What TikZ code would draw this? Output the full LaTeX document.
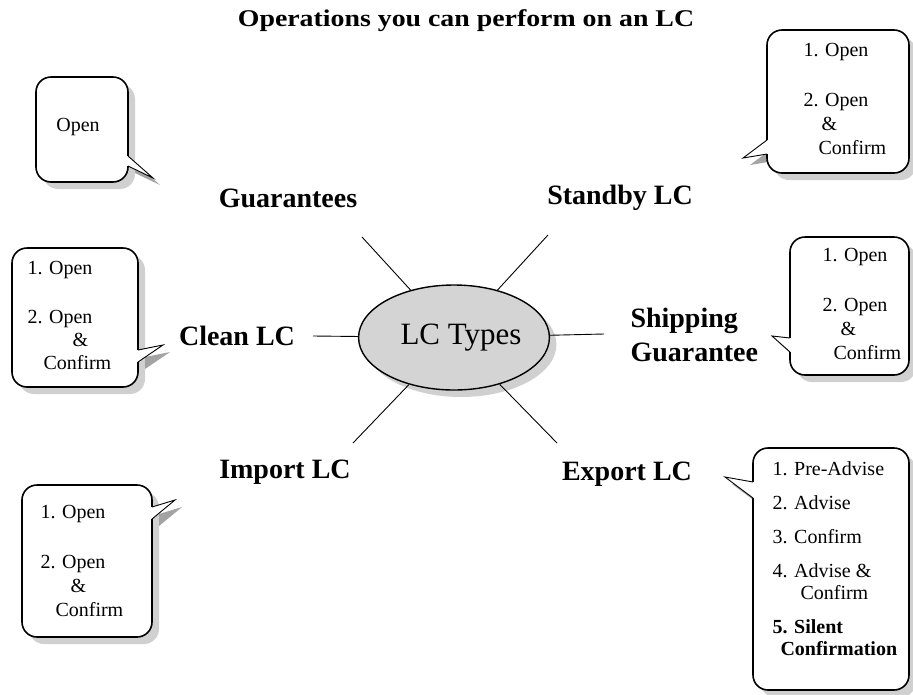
\documentclass[tikz,border=0pt]{standalone}
\usepackage{fontspec}
\setmainfont{Liberation Serif}
\usetikzlibrary{shapes.geometric,shadows,positioning}
\definecolor{hubgray}{HTML}{D4D4D4}
\definecolor{shadegray}{HTML}{A3A3A3}

\begin{document}
\begin{tikzpicture}[
  x=1pt, y=-1pt,
  line width=1pt,
  hub/.style={ellipse, draw, line width=1.4pt, fill=hubgray, minimum width=190pt, minimum height=105pt, inner sep=0pt, font=\fontsize{31}{33}\selectfont, drop shadow={shadow xshift=7pt, shadow yshift=-7pt, fill=shadegray}},
  ltype/.style={font=\fontsize{28}{34}\bfseries\selectfont, inner sep=0pt},
  spoke/.style={draw, line width=0.9pt},
  bubble/.style={rectangle, draw, line width=1.6pt, fill=white, rounded corners=15pt, inner sep=0pt, drop shadow={shadow xshift=7pt, shadow yshift=-7pt, fill=shadegray}},
  optext/.style={font=\fontsize{20}{24}\selectfont, align=left, inner sep=0pt, anchor=north west},
  tipshade/.style={fill=shadegray, shift={(7,7)}},
  tipfill/.style={fill=white},
  tipgap/.style={draw=white, line width=2.6pt},
  tipline/.style={draw, line width=0.9pt, line join=miter}
]
  \fill[white] (0,0) rectangle (913,694);
  \useasboundingbox (0,0) rectangle (913,694);

  % title
  \node[font=\fontsize{24}{28}\bfseries\selectfont] (title) at (466,21) {\scalebox{1.16}[1]{Operations you can perform on an LC}};

  % hub and the LC types round it
  \node[hub] (hub) at (454,337.5) {\hspace*{14pt}LC Types};
  \node[ltype] (guar) at (288,198) {Guarantees};
  \node[ltype] (standby) at (620,198) {Standby LC};
  \node[ltype] (clean) at (237,336) {Clean LC};
  \node[ltype, align=left, anchor=west] (ship) at (630,335) {Shipping\\Guarantee};
  \node[ltype] (import) at (285,472) {Import LC};
  \node[ltype] (export) at (627,474) {Export LC};

  \coordinate (guarEnd) at (362,237);
  \coordinate (standbyEnd) at (548,235);
  \coordinate (cleanEnd) at (313,336);
  \coordinate (shipEnd) at (604,334);
  \coordinate (importEnd) at (353,443);
  \coordinate (exportEnd) at (557,443);
  \draw[spoke] (hub) -- (guarEnd);
  \draw[spoke] (hub) -- (standbyEnd);
  \draw[spoke] (hub) -- (cleanEnd);
  \draw[spoke] (hub) -- (shipEnd);
  \draw[spoke] (hub) -- (importEnd);
  \draw[spoke] (hub) -- (exportEnd);

  % Guarantees callout
  \fill[tipshade] (128,156) -- (153,178) -- (128,166) -- cycle;
  \node[bubble, minimum width=92pt, minimum height=105pt] (guarbox) at (82,129.5) {};
  \fill[tipfill] (128,156) -- (153,178) -- (128,166) -- cycle;
  \draw[tipgap] (128,156) -- (128,166);
  \draw[tipline] (128,156) -- (153,178) -- (128,166);
  \node[font=\fontsize{20}{24}\selectfont] (guartext) at (78,127) {Open};

  % Standby LC callout
  \fill[tipshade] (767,140) -- (743,158) -- (767,154) -- cycle;
  \node[bubble, minimum width=142pt, minimum height=143pt] (standbybox) at (838,101.5) {};
  \fill[tipfill] (767,140) -- (743,158) -- (767,154) -- cycle;
  \draw[tipgap] (767,140) -- (767,154);
  \draw[tipline] (767,140) -- (743,158) -- (767,154);
  \node[optext] (standbytext) at (803,43) {1. Open\\[26pt]2. Open\\\hspace*{18pt}\&\\\hspace*{15pt}Confirm};

  % Clean LC callout
  \fill[tipshade] (138,350) -- (163,345) -- (138,362) -- cycle;
  \node[bubble, minimum width=126pt, minimum height=139pt] (cleanbox) at (75,317.5) {};
  \fill[tipfill] (138,350) -- (163,345) -- (138,362) -- cycle;
  \draw[tipgap] (138,350) -- (138,362);
  \draw[tipline] (138,350) -- (163,345) -- (138,362);
  \node[optext, font=\fontsize{20}{23}\selectfont] (cleantext) at (27,261) {1. Open\\[26pt]2. Open\\\hspace*{45pt}\&\\\hspace*{16pt}Confirm};

  % Shipping Guarantee callout
  \fill[tipshade] (790,338) -- (772,336) -- (790,352) -- cycle;
  \node[bubble, minimum width=119pt, minimum height=138pt] (shipbox) at (849.5,306) {};
  \fill[tipfill] (790,338) -- (772,336) -- (790,352) -- cycle;
  \draw[tipgap] (790,338) -- (790,352);
  \draw[tipline] (790,338) -- (772,336) -- (790,352);
  \node[optext] (shiptext) at (822,248) {1. Open\\[26pt]2. Open\\\hspace*{18pt}\&\\\hspace*{11pt}Confirm};

  % Import LC callout
  \fill[tipshade] (152,507) -- (175,500) -- (152,519) -- cycle;
  \node[bubble, minimum width=130pt, minimum height=152pt] (importbox) at (87,561) {};
  \fill[tipfill] (152,507) -- (175,500) -- (152,519) -- cycle;
  \draw[tipgap] (152,507) -- (152,519);
  \draw[tipline] (152,507) -- (175,500) -- (152,519);
  \node[optext] (importtext) at (40,505) {1. Open\\[26pt]2. Open\\\hspace*{30pt}\&\\\hspace*{15pt}Confirm};

  % Export LC callout
  \fill[tipshade] (753,482) -- (725,477) -- (753,498) -- cycle;
  \node[bubble, minimum width=156pt, minimum height=242pt] (exportbox) at (831,569) {};
  \fill[tipfill] (753,482) -- (725,477) -- (753,498) -- cycle;
  \draw[tipgap] (753,482) -- (753,498);
  \draw[tipline] (753,482) -- (725,477) -- (753,498);
  \node[optext, font=\fontsize{20}{22}\selectfont] (exporttext) at (772,461) {1. Pre-Advise\\[12pt]2. Advise\\[12pt]3. Confirm\\[12pt]4. Advise \&\\\hspace*{28pt}Confirm\\[12pt]\textbf{5. Silent}\\\hspace*{8pt}\textbf{Confirmation}};
\end{tikzpicture}
\end{document}
